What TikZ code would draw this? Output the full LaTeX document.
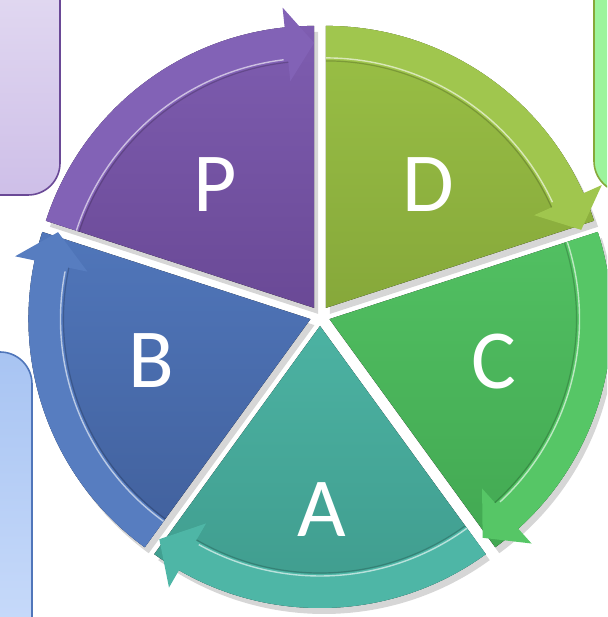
\documentclass[tikz,border=0pt]{standalone}
\usepackage{fontspec}
\setmainfont{Carlito}
\usepackage{tikz}
\usetikzlibrary{positioning}

\definecolor{pTop}{HTML}{7E5DB0}
\definecolor{pBot}{HTML}{6A4996}
\definecolor{pArr}{HTML}{8262B6}
\definecolor{dTop}{HTML}{9AC046}
\definecolor{dBot}{HTML}{86A83A}
\definecolor{dArr}{HTML}{A0C64E}
\definecolor{cTop}{HTML}{52C062}
\definecolor{cBot}{HTML}{42A852}
\definecolor{cArr}{HTML}{56C666}
\definecolor{aTop}{HTML}{4CB2A2}
\definecolor{aBot}{HTML}{3E9A8C}
\definecolor{aArr}{HTML}{4EB6A6}
\definecolor{bTop}{HTML}{5076BA}
\definecolor{bBot}{HTML}{41609C}
\definecolor{bArr}{HTML}{577DC0}
\definecolor{lavTop}{HTML}{E4DCF2}
\definecolor{lavBot}{HTML}{CEBFE8}
\definecolor{skyTop}{HTML}{A8C4F2}
\definecolor{skyBot}{HTML}{CADCFB}
\definecolor{mint}{HTML}{9CF49C}

\begin{document}
\begin{tikzpicture}[x=0.5pt,y=0.5pt,
    lbl/.style = {text=white, font=\fontsize{42}{50}\selectfont, inner sep=0pt, anchor=base},
    shade/.style = {fill=black, opacity=.16},
    shine/.style = {draw=white, opacity=.6, line width=0.7pt},
    rim/.style = {draw=black, opacity=.18, line width=0.6pt},
    sidebox/.style = {rounded corners=16pt, line width=0.8pt}]
  \useasboundingbox (0,0) rectangle (607,617);
  \clip (0,0) rectangle (607,617);

  % boxes cut by the frame
  \draw[sidebox, draw=pBot, top color=lavTop, bottom color=lavBot] (-40,422) rectangle (60,660);
  \draw[sidebox, draw=dBot, fill=mint] (594,424) rectangle (660,660);
  \draw[sidebox, draw=bTop, top color=skyTop, bottom color=skyBot] (-40,-40) rectangle (32,265);

  % P
  \begin{scope}[shift={(320,301)}, shift={(126:10)}]
    \fill[shade, xshift=2, yshift=-3] (0,0) -- (90:282) arc[start angle=90, end angle=162, radius=282] -- cycle;
    \fill[top color=pTop, bottom color=pBot] (0,0) -- (90:282) arc[start angle=90, end angle=162, radius=282] -- cycle;
    \fill[pArr] (162:248) -- (162:282) arc[start angle=162, end angle=96, radius=282] -- (96:302) -- (90:265) -- (96:228) -- (96:248) arc[start angle=96, end angle=162, radius=248] -- cycle;
    \draw[rim] (162:247) arc[start angle=162, end angle=96, radius=247];
    \draw[shine] (162:250) arc[start angle=162, end angle=97, radius=250];
  \end{scope}

  % D
  \begin{scope}[shift={(320,301)}, shift={(54:10)}]
    \fill[shade, xshift=2, yshift=-3] (0,0) -- (18:282) arc[start angle=18, end angle=90, radius=282] -- cycle;
    \fill[top color=dTop, bottom color=dBot] (0,0) -- (18:282) arc[start angle=18, end angle=90, radius=282] -- cycle;
    \fill[dArr] (90:248) -- (90:282) arc[start angle=90, end angle=24, radius=282] -- (24:302) -- (17:267) -- (24:228) -- (24:248) arc[start angle=24, end angle=90, radius=248] -- cycle;
    \draw[rim] (90:247) arc[start angle=90, end angle=24, radius=247];
    \draw[shine] (90:250) arc[start angle=90, end angle=25, radius=250];
  \end{scope}

  % C
  \begin{scope}[shift={(320,301)}, shift={(-18:10)}]
    \fill[shade, xshift=2, yshift=-3] (0,0) -- (-54:282) arc[start angle=-54, end angle=18, radius=282] -- cycle;
    \fill[top color=cTop, bottom color=cBot] (0,0) -- (-54:282) arc[start angle=-54, end angle=18, radius=282] -- cycle;
    \fill[cArr] (18:248) -- (18:282) arc[start angle=18, end angle=-48, radius=282] -- (-48:302) -- (-55:267) -- (-48:228) -- (-48:248) arc[start angle=-48, end angle=18, radius=248] -- cycle;
    \draw[rim] (18:247) arc[start angle=18, end angle=-48, radius=247];
    \draw[shine] (18:250) arc[start angle=18, end angle=-47, radius=250];
  \end{scope}

  % A
  \begin{scope}[shift={(320,301)}, shift={(-90:10)}]
    \fill[shade, xshift=2, yshift=-3] (0,0) -- (-126:282) arc[start angle=-126, end angle=-54, radius=282] -- cycle;
    \fill[top color=aTop, bottom color=aBot] (0,0) -- (-126:282) arc[start angle=-126, end angle=-54, radius=282] -- cycle;
    \fill[aArr] (-54:248) -- (-54:282) arc[start angle=-54, end angle=-120, radius=282] -- (-120:302) -- (-127:267) -- (-120:228) -- (-120:248) arc[start angle=-120, end angle=-54, radius=248] -- cycle;
    \draw[rim] (-54:247) arc[start angle=-54, end angle=-120, radius=247];
    \draw[shine] (-54:250) arc[start angle=-54, end angle=-119, radius=250];
  \end{scope}

  % B
  \begin{scope}[shift={(320,301)}, shift={(198:10)}]
    \fill[shade, xshift=2, yshift=-3] (0,0) -- (162:282) arc[start angle=162, end angle=234, radius=282] -- cycle;
    \fill[top color=bTop, bottom color=bBot] (0,0) -- (162:282) arc[start angle=162, end angle=234, radius=282] -- cycle;
    \fill[bArr] (234:248) -- (234:282) arc[start angle=234, end angle=168, radius=282] -- (168:302) -- (161:267) -- (168:228) -- (168:248) arc[start angle=168, end angle=234, radius=248] -- cycle;
    \draw[rim] (234:247) arc[start angle=234, end angle=168, radius=247];
    \draw[shine] (234:250) arc[start angle=234, end angle=169, radius=250];
  \end{scope}

  % letters
  \node[lbl] (labP) at (215,405) {P};
  \node[lbl] (labD) at (428,405) {D};
  \node[lbl] (labC) at (494,228) {C};
  \node[lbl] (labA) at (322,80) {A};
  \node[lbl] (labB) at (151,229) {B};
\end{tikzpicture}
\end{document}
